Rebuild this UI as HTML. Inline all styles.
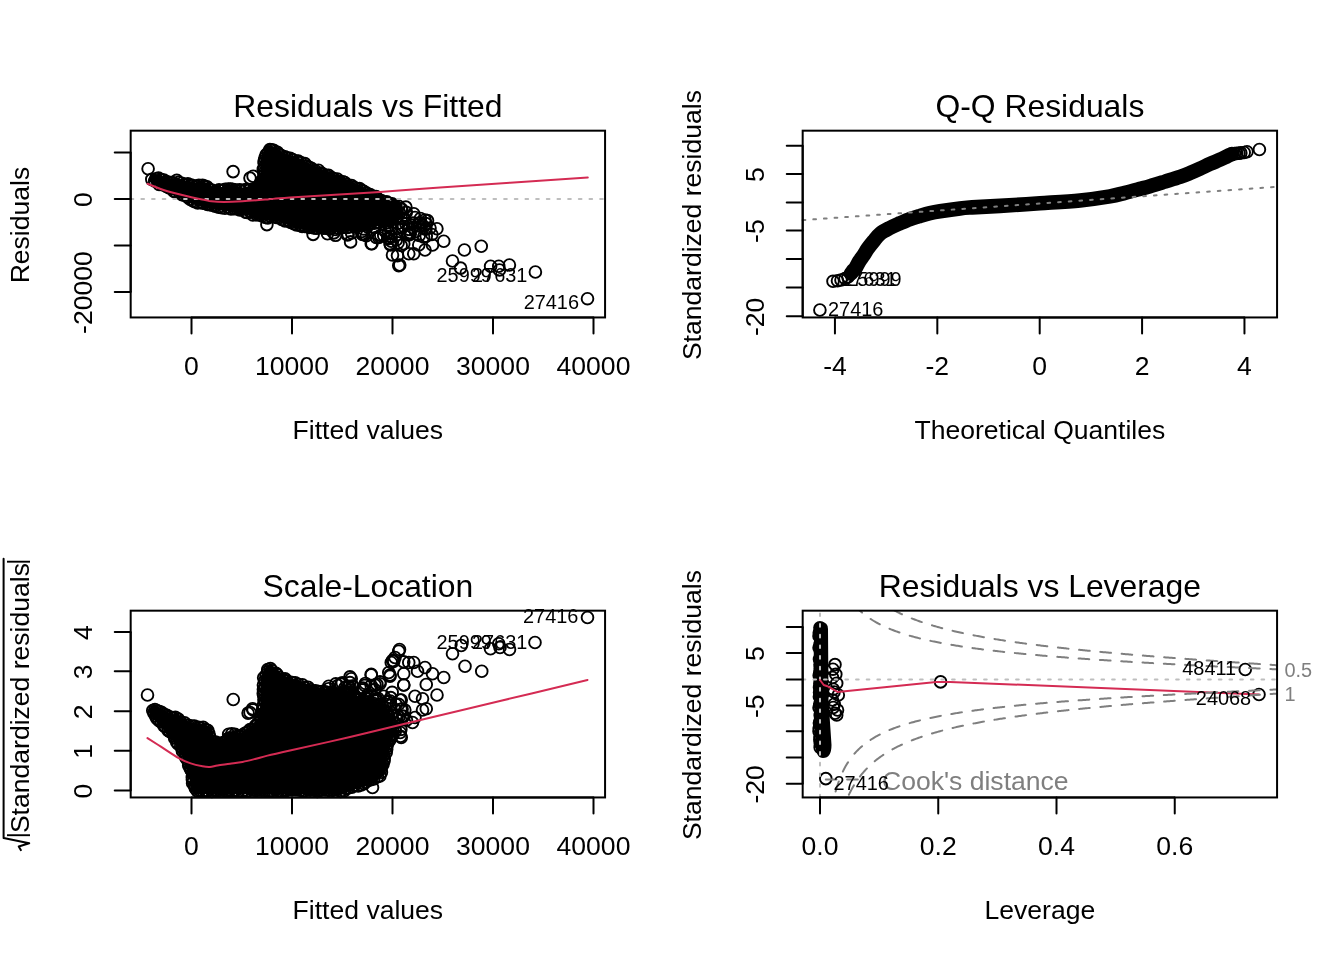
<!DOCTYPE html>
<html><head><meta charset="utf-8"><title>lm diagnostics</title>
<style>html,body{margin:0;padding:0;background:#fff;}svg{display:block;}</style></head>
<body><svg width="1344" height="960" viewBox="0 0 1344 960" font-family="'Liberation Sans', Arial, Helvetica, sans-serif">
<rect width="1344" height="960" fill="#fff"/>
<polygon points="148.14,180.04 148.55,181.17 155.97,185.75 193.24,204.38 205.44,208.04 217.8,209.92 230.29,211.77 230.38,211.79 240.38,213.74 240.47,213.76 247.97,215.56 248.16,215.61 248.34,215.69 248.52,215.78 254.04,219.06 267,220.41 280.39,221.71 280.61,221.74 280.82,221.8 281.02,221.88 294.15,227.8 307.29,231.01 320.4,231.7 333.65,232.39 346.79,231.01 346.81,231.01 360.21,229.72 373.5,227.04 373.52,227.04 386.74,224.47 394.72,221.35 399.08,215.25 399.92,208.49 398.53,206.39 393.9,202.92 385.31,198.01 375.41,193.07 366.71,189.34 366.61,189.29 349.16,180.57 331.72,173.09 316.73,166.85 316.6,166.79 297.96,157.44 289.42,154.42 284.51,153.19 284.3,153.12 284.09,153.03 283.89,152.91 276.49,147.98 271.02,145.23 267.49,146.14 264.23,151.01 260.74,157.99 260.5,172.03 260.49,172.2 260.47,172.37 260.43,172.54 257.93,181.54 257.87,181.72 257.79,181.89 257.7,182.06 257.59,182.21 257.47,182.36 257.33,182.49 257.19,182.61 257.03,182.71 252.03,185.71 251.86,185.8 251.69,185.88 251.51,185.93 251.33,185.97 245.33,186.97 245.32,186.97 241.57,187.57 241.36,187.6 241.15,187.6 240.95,187.58 240.74,187.53 240.55,187.47 240.36,187.39 235.71,185.07 227.91,184.53 223.39,186.79 223.22,186.86 223.05,186.92 222.87,186.97 222.69,186.99 222.5,187 213.75,187 213.55,186.99 213.34,186.96 213.15,186.91 212.95,186.84 212.77,186.74 212.6,186.64 206.73,182.5 200.16,181.45 196.86,182.5 196.66,182.56 196.46,182.59 196.26,182.6 196.06,182.59 195.86,182.56 183.36,180.06 183.17,180.01 182.99,179.95 176.22,177.15 171.96,178.77 171.77,178.83 171.57,178.87 171.37,178.9 171.17,178.9 170.96,178.88 170.77,178.84 170.57,178.78 161.9,175.66 153.25,173.36 150.3,174.61 148.14,180.04" fill="#000"/>
<g fill="none" stroke="#000" stroke-width="1.9"><circle cx="151.8" cy="179.35" r="5.85"/><circle cx="154.61" cy="181.05" r="5.85"/><circle cx="157.68" cy="181.55" r="5.85"/><circle cx="159.12" cy="184.46" r="5.85"/><circle cx="162.3" cy="184.6" r="5.85"/><circle cx="166.45" cy="186.41" r="5.85"/><circle cx="168.82" cy="187.76" r="5.85"/><circle cx="171.11" cy="188.45" r="5.85"/><circle cx="173.78" cy="191.23" r="5.85"/><circle cx="176.24" cy="192.32" r="5.85"/><circle cx="179.22" cy="192.31" r="5.85"/><circle cx="182.08" cy="194.7" r="5.85"/><circle cx="183.85" cy="194.92" r="5.85"/><circle cx="187.66" cy="197.15" r="5.85"/><circle cx="190.05" cy="199.3" r="5.85"/><circle cx="192.72" cy="200.73" r="5.85"/><circle cx="194.8" cy="201.76" r="5.85"/><circle cx="197.77" cy="202.89" r="5.85"/><circle cx="201.51" cy="202.07" r="5.85"/><circle cx="202.9" cy="203.18" r="5.85"/><circle cx="207.44" cy="204.44" r="5.85"/><circle cx="209.73" cy="204.62" r="5.85"/><circle cx="212.45" cy="205.24" r="5.85"/><circle cx="215.11" cy="206.09" r="5.85"/><circle cx="218.54" cy="207.18" r="5.85"/><circle cx="221.7" cy="207.67" r="5.85"/><circle cx="225.02" cy="208.23" r="5.85"/><circle cx="227.62" cy="207.01" r="5.85"/><circle cx="230.96" cy="209.05" r="5.85"/><circle cx="234" cy="208.81" r="5.85"/><circle cx="236.57" cy="208.66" r="5.85"/><circle cx="239.75" cy="209.96" r="5.85"/><circle cx="241.59" cy="209.55" r="5.85"/><circle cx="245.64" cy="212.11" r="5.85"/><circle cx="247.03" cy="212.43" r="5.85"/><circle cx="250.47" cy="212.16" r="5.85"/><circle cx="252.82" cy="214.93" r="5.85"/><circle cx="256.65" cy="214.72" r="5.85"/><circle cx="259.12" cy="215.03" r="5.85"/><circle cx="262.31" cy="215.92" r="5.85"/><circle cx="265.62" cy="217.53" r="5.85"/><circle cx="267.85" cy="217.87" r="5.85"/><circle cx="270.45" cy="216.32" r="5.85"/><circle cx="274.01" cy="216.52" r="5.85"/><circle cx="276.19" cy="217.56" r="5.85"/><circle cx="280.01" cy="217.35" r="5.85"/><circle cx="281.78" cy="219.42" r="5.85"/><circle cx="285.06" cy="220.83" r="5.85"/><circle cx="288.96" cy="220.9" r="5.85"/><circle cx="290.82" cy="222.42" r="5.85"/><circle cx="293.92" cy="223.81" r="5.85"/><circle cx="296.55" cy="224.89" r="5.85"/><circle cx="300.23" cy="225.38" r="5.85"/><circle cx="302.13" cy="226.52" r="5.85"/><circle cx="304.65" cy="226.39" r="5.85"/><circle cx="309.05" cy="227.49" r="5.85"/><circle cx="311.19" cy="226.63" r="5.85"/><circle cx="313.92" cy="227.93" r="5.85"/><circle cx="316.13" cy="228.15" r="5.85"/><circle cx="320.35" cy="227.2" r="5.85"/><circle cx="323.33" cy="228.17" r="5.85"/><circle cx="326.43" cy="228.1" r="5.85"/><circle cx="329.48" cy="229.03" r="5.85"/><circle cx="331.11" cy="227.83" r="5.85"/><circle cx="335.41" cy="229.55" r="5.85"/><circle cx="337.54" cy="228.22" r="5.85"/><circle cx="341.21" cy="227.64" r="5.85"/><circle cx="343.73" cy="227.31" r="5.85"/><circle cx="346.73" cy="227.57" r="5.85"/><circle cx="349.58" cy="226.84" r="5.85"/><circle cx="353.51" cy="225.85" r="5.85"/><circle cx="356.09" cy="226.98" r="5.85"/><circle cx="358.55" cy="225.67" r="5.85"/><circle cx="362.49" cy="225.19" r="5.85"/><circle cx="364.2" cy="224.99" r="5.85"/><circle cx="368.16" cy="223.73" r="5.85"/><circle cx="370.35" cy="223.6" r="5.85"/><circle cx="374.32" cy="223.22" r="5.85"/><circle cx="377.31" cy="222.11" r="5.85"/><circle cx="379.22" cy="222.5" r="5.85"/><circle cx="383.26" cy="221.53" r="5.85"/><circle cx="384.88" cy="220.3" r="5.85"/><circle cx="388.3" cy="219.4" r="5.85"/><circle cx="391.65" cy="219.6" r="5.85"/><circle cx="392.66" cy="216.71" r="5.85"/><circle cx="395.65" cy="214.99" r="5.85"/><circle cx="396.48" cy="211.6" r="5.85"/><circle cx="395.2" cy="208.59" r="5.85"/><circle cx="394.16" cy="206.72" r="5.85"/><circle cx="390.8" cy="205.31" r="5.85"/><circle cx="388.34" cy="203.8" r="5.85"/><circle cx="386.74" cy="201.81" r="5.85"/><circle cx="382.29" cy="201.91" r="5.85"/><circle cx="381.36" cy="200.66" r="5.85"/><circle cx="377.78" cy="199.24" r="5.85"/><circle cx="376.09" cy="196.45" r="5.85"/><circle cx="373" cy="196.41" r="5.85"/><circle cx="370.08" cy="194.6" r="5.85"/><circle cx="366.57" cy="193.06" r="5.85"/><circle cx="363.72" cy="191.28" r="5.85"/><circle cx="361.76" cy="190.37" r="5.85"/><circle cx="359.52" cy="188.55" r="5.85"/><circle cx="357.02" cy="188.5" r="5.85"/><circle cx="354.38" cy="187.57" r="5.85"/><circle cx="351.65" cy="185.59" r="5.85"/><circle cx="347.19" cy="184.58" r="5.85"/><circle cx="344.76" cy="182.48" r="5.85"/><circle cx="342.99" cy="181.75" r="5.85"/><circle cx="339.73" cy="181.39" r="5.85"/><circle cx="337.37" cy="179.02" r="5.85"/><circle cx="333.89" cy="178.88" r="5.85"/><circle cx="331.59" cy="177.54" r="5.85"/><circle cx="328.57" cy="175.2" r="5.85"/><circle cx="326.17" cy="175.28" r="5.85"/><circle cx="322.67" cy="174.08" r="5.85"/><circle cx="321.4" cy="172.95" r="5.85"/><circle cx="318.44" cy="170.2" r="5.85"/><circle cx="315.28" cy="170.75" r="5.85"/><circle cx="311.44" cy="168.22" r="5.85"/><circle cx="309.2" cy="167.39" r="5.85"/><circle cx="306.83" cy="165.94" r="5.85"/><circle cx="304.85" cy="163.65" r="5.85"/><circle cx="300.73" cy="162.56" r="5.85"/><circle cx="298.19" cy="161.09" r="5.85"/><circle cx="297.19" cy="161.36" r="5.85"/><circle cx="292.58" cy="159.65" r="5.85"/><circle cx="290.21" cy="158.28" r="5.85"/><circle cx="287.44" cy="158" r="5.85"/><circle cx="285" cy="156.7" r="5.85"/><circle cx="281.4" cy="155.64" r="5.85"/><circle cx="278.76" cy="154.43" r="5.85"/><circle cx="277.45" cy="152.42" r="5.85"/><circle cx="273.67" cy="150.37" r="5.85"/><circle cx="271.58" cy="149.87" r="5.85"/><circle cx="269.89" cy="149.64" r="5.85"/><circle cx="268.26" cy="152.61" r="5.85"/><circle cx="266.12" cy="154.76" r="5.85"/><circle cx="264.9" cy="158.11" r="5.85"/><circle cx="264.14" cy="160.95" r="5.85"/><circle cx="264.17" cy="163.05" r="5.85"/><circle cx="264.27" cy="166.95" r="5.85"/><circle cx="263.29" cy="169.41" r="5.85"/><circle cx="263.92" cy="173.32" r="5.85"/><circle cx="264.22" cy="175.22" r="5.85"/><circle cx="263.34" cy="178.94" r="5.85"/><circle cx="261.27" cy="181.18" r="5.85"/><circle cx="259.94" cy="184.67" r="5.85"/><circle cx="258.82" cy="186.81" r="5.85"/><circle cx="256.51" cy="187.91" r="5.85"/><circle cx="253.8" cy="189.22" r="5.85"/><circle cx="249.63" cy="189.95" r="5.85"/><circle cx="246.47" cy="189.55" r="5.85"/><circle cx="245.05" cy="189.84" r="5.85"/><circle cx="240.72" cy="190.39" r="5.85"/><circle cx="239.4" cy="189.91" r="5.85"/><circle cx="235" cy="189.9" r="5.85"/><circle cx="232.34" cy="189.19" r="5.85"/><circle cx="230.46" cy="188.96" r="5.85"/><circle cx="228.18" cy="189.03" r="5.85"/><circle cx="225.18" cy="189.27" r="5.85"/><circle cx="222.17" cy="190.62" r="5.85"/><circle cx="219.06" cy="189.81" r="5.85"/><circle cx="216.13" cy="191.47" r="5.85"/><circle cx="211.76" cy="190.14" r="5.85"/><circle cx="210.09" cy="189.84" r="5.85"/><circle cx="207" cy="186.82" r="5.85"/><circle cx="204.5" cy="186.1" r="5.85"/><circle cx="202.55" cy="185.19" r="5.85"/><circle cx="198.86" cy="185.35" r="5.85"/><circle cx="195.91" cy="186.03" r="5.85"/><circle cx="192.42" cy="185.71" r="5.85"/><circle cx="191.26" cy="184.95" r="5.85"/><circle cx="187.87" cy="183.86" r="5.85"/><circle cx="184.81" cy="184.46" r="5.85"/><circle cx="181.87" cy="183.27" r="5.85"/><circle cx="178.72" cy="182.38" r="5.85"/><circle cx="176.77" cy="180.39" r="5.85"/><circle cx="172.36" cy="182.65" r="5.85"/><circle cx="171.05" cy="182.43" r="5.85"/><circle cx="167.26" cy="181.89" r="5.85"/><circle cx="163.92" cy="179.97" r="5.85"/><circle cx="161.12" cy="179.59" r="5.85"/><circle cx="158.48" cy="178.04" r="5.85"/><circle cx="156.33" cy="178.71" r="5.85"/></g>
<g fill="none" stroke="#000" stroke-width="1.9"><circle cx="148.1" cy="168.75" r="5.85"/><circle cx="233.1" cy="171.6" r="5.85"/><circle cx="266.9" cy="224.6" r="5.85"/><circle cx="250" cy="178.1" r="5.85"/><circle cx="253.1" cy="176.25" r="5.85"/><circle cx="436.9" cy="228.75" r="5.85"/><circle cx="443.75" cy="241.25" r="5.85"/><circle cx="464.4" cy="250" r="5.85"/><circle cx="481.25" cy="246.25" r="5.85"/><circle cx="452.5" cy="261" r="5.85"/><circle cx="460.6" cy="268.1" r="5.85"/><circle cx="490.6" cy="266.25" r="5.85"/><circle cx="498.75" cy="266.25" r="5.85"/><circle cx="499.4" cy="270" r="5.85"/><circle cx="509.4" cy="265" r="5.85"/><circle cx="399.75" cy="265" r="5.85"/><circle cx="371.9" cy="243.75" r="5.85"/><circle cx="362.5" cy="234.4" r="5.85"/><circle cx="378.75" cy="237.5" r="5.85"/><circle cx="391.25" cy="241.25" r="5.85"/><circle cx="390.6" cy="245" r="5.85"/><circle cx="392.5" cy="255" r="5.85"/><circle cx="397.5" cy="255.6" r="5.85"/><circle cx="403.75" cy="243.75" r="5.85"/><circle cx="408.75" cy="253.75" r="5.85"/><circle cx="413.75" cy="253.75" r="5.85"/><circle cx="418.75" cy="245" r="5.85"/><circle cx="425" cy="250" r="5.85"/><circle cx="426.25" cy="236.25" r="5.85"/><circle cx="432.5" cy="245" r="5.85"/><circle cx="413.75" cy="213.75" r="5.85"/><circle cx="425" cy="220" r="5.85"/><circle cx="427.5" cy="220.6" r="5.85"/><circle cx="415" cy="217.5" r="5.85"/><circle cx="412.5" cy="227.5" r="5.85"/><circle cx="410" cy="232.5" r="5.85"/><circle cx="401.25" cy="227.5" r="5.85"/><circle cx="398.75" cy="206.25" r="5.85"/><circle cx="401.25" cy="208.75" r="5.85"/><circle cx="385" cy="231.25" r="5.85"/><circle cx="375" cy="227.5" r="5.85"/><circle cx="420" cy="226.25" r="5.85"/><circle cx="313.1" cy="234.4" r="5.85"/><circle cx="327.5" cy="233.75" r="5.85"/><circle cx="347.5" cy="235" r="5.85"/><circle cx="350.6" cy="241.9" r="5.85"/><circle cx="361.9" cy="233.75" r="5.85"/><circle cx="371.25" cy="243.75" r="5.85"/><circle cx="376.25" cy="237.5" r="5.85"/><circle cx="390" cy="243.75" r="5.85"/><circle cx="396.25" cy="240" r="5.85"/><circle cx="398.75" cy="265.6" r="5.85"/><circle cx="535.4" cy="272" r="5.85"/><circle cx="587.5" cy="298.7" r="5.85"/></g>
<g fill="none" stroke="#000" stroke-width="1.9"><circle cx="388.58" cy="232.35" r="5.85"/><circle cx="413.02" cy="223.08" r="5.85"/><circle cx="391.23" cy="236.88" r="5.85"/><circle cx="422.01" cy="224.55" r="5.85"/><circle cx="406.26" cy="212.39" r="5.85"/><circle cx="392.1" cy="203.86" r="5.85"/><circle cx="431.87" cy="234.5" r="5.85"/><circle cx="425.5" cy="229.1" r="5.85"/><circle cx="405.87" cy="207.1" r="5.85"/><circle cx="388.05" cy="237.97" r="5.85"/><circle cx="403.56" cy="226.29" r="5.85"/><circle cx="397.83" cy="223.33" r="5.85"/><circle cx="389.72" cy="203.63" r="5.85"/><circle cx="419.25" cy="235.56" r="5.85"/><circle cx="410.2" cy="234.11" r="5.85"/><circle cx="386.37" cy="222.96" r="5.85"/><circle cx="401.3" cy="218.07" r="5.85"/><circle cx="403.47" cy="218.97" r="5.85"/><circle cx="405.79" cy="223.63" r="5.85"/><circle cx="408.62" cy="234.92" r="5.85"/><circle cx="391.55" cy="228.79" r="5.85"/><circle cx="408.94" cy="229.4" r="5.85"/><circle cx="389.4" cy="209.48" r="5.85"/><circle cx="398.11" cy="242.79" r="5.85"/><circle cx="398.02" cy="228.28" r="5.85"/><circle cx="395.94" cy="206.54" r="5.85"/><circle cx="420.4" cy="218.49" r="5.85"/><circle cx="415.53" cy="231.74" r="5.85"/><circle cx="401.16" cy="245.52" r="5.85"/><circle cx="429.99" cy="227.98" r="5.85"/><circle cx="425.92" cy="223.6" r="5.85"/><circle cx="399.53" cy="212.88" r="5.85"/><circle cx="420.24" cy="223.26" r="5.85"/><circle cx="393.41" cy="214.75" r="5.85"/><circle cx="401.82" cy="209.51" r="5.85"/><circle cx="418.78" cy="223.07" r="5.85"/><circle cx="407.33" cy="234.06" r="5.85"/><circle cx="423.59" cy="236.99" r="5.85"/><circle cx="425.84" cy="228.46" r="5.85"/><circle cx="402.16" cy="227.57" r="5.85"/></g>
<g fill="none" stroke="#000" stroke-width="1.9"><circle cx="317.5" cy="227.93" r="5.85"/><circle cx="361.89" cy="231.53" r="5.85"/><circle cx="367.27" cy="226.78" r="5.85"/><circle cx="383.73" cy="235.43" r="5.85"/><circle cx="329.51" cy="229.04" r="5.85"/><circle cx="380.73" cy="235.33" r="5.85"/><circle cx="389.11" cy="238.38" r="5.85"/><circle cx="366.35" cy="235.8" r="5.85"/><circle cx="390.69" cy="236.41" r="5.85"/><circle cx="363.41" cy="228.96" r="5.85"/><circle cx="348.1" cy="234.28" r="5.85"/><circle cx="335.51" cy="235.32" r="5.85"/><circle cx="351.6" cy="232.94" r="5.85"/><circle cx="363.96" cy="234.45" r="5.85"/><circle cx="333.79" cy="232.91" r="5.85"/></g>
<line x1="130.68" y1="199" x2="605.07" y2="199" stroke="#BEBEBE" stroke-width="2" stroke-dasharray="2.67 8" stroke-linecap="round"/>
<path d="M147.5,183.75 C150.83,185 160,188.96 167.5,191.25 C175,193.54 186.25,196.04 192.5,197.5 C198.75,198.96 201.88,199.38 205,200 C208.12,200.62 208.12,200.93 211.25,201.25 C214.38,201.57 218.54,201.9 223.75,201.9 C228.96,201.9 235.21,201.67 242.5,201.25 C249.79,200.83 259.58,200.03 267.5,199.4 C275.42,198.78 271.25,198.73 290,197.5 C308.75,196.27 355,193.67 380,192 C405,190.33 405.37,189.92 440,187.5 C474.63,185.08 563.17,179.17 587.8,177.5" fill="none" stroke="#D42B53" stroke-width="2" stroke-linejoin="round" stroke-linecap="round" />
<text x="436.5" y="282.2" font-size="19.92" text-anchor="start" fill="#000">25999</text>
<text x="527.35" y="282.2" font-size="19.92" text-anchor="end" fill="#000">27631</text>
<text x="579" y="309.4" font-size="19.92" text-anchor="end" fill="#000">27416</text>
<rect x="130.68" y="130.68" width="474.39" height="186.77" fill="none" stroke="#000" stroke-width="2"/>
<text x="367.88" y="117.14" font-size="31.87" text-anchor="middle" fill="#000">Residuals vs Fitted</text>
<line x1="191.5" y1="317.45" x2="593.5" y2="317.45" stroke="#000" stroke-width="2" />
<line x1="130.68" y1="152.5" x2="130.68" y2="292" stroke="#000" stroke-width="2" />
<line x1="191.5" y1="317.45" x2="191.5" y2="333.39" stroke="#000" stroke-width="2" stroke-linecap="round"/>
<text x="191.5" y="374.82" font-size="26.56" text-anchor="middle" fill="#000">0</text>
<line x1="292" y1="317.45" x2="292" y2="333.39" stroke="#000" stroke-width="2" stroke-linecap="round"/>
<text x="292" y="374.82" font-size="26.56" text-anchor="middle" fill="#000">10000</text>
<line x1="392.5" y1="317.45" x2="392.5" y2="333.39" stroke="#000" stroke-width="2" stroke-linecap="round"/>
<text x="392.5" y="374.82" font-size="26.56" text-anchor="middle" fill="#000">20000</text>
<line x1="493" y1="317.45" x2="493" y2="333.39" stroke="#000" stroke-width="2" stroke-linecap="round"/>
<text x="493" y="374.82" font-size="26.56" text-anchor="middle" fill="#000">30000</text>
<line x1="593.5" y1="317.45" x2="593.5" y2="333.39" stroke="#000" stroke-width="2" stroke-linecap="round"/>
<text x="593.5" y="374.82" font-size="26.56" text-anchor="middle" fill="#000">40000</text>
<line x1="130.68" y1="152.5" x2="114.74" y2="152.5" stroke="#000" stroke-width="2" stroke-linecap="round"/>
<line x1="130.68" y1="199" x2="114.74" y2="199" stroke="#000" stroke-width="2" stroke-linecap="round"/>
<text x="92.43" y="199.6" font-size="26.56" text-anchor="middle" fill="#000" transform="rotate(-90 92.43 199.6)">0</text>
<line x1="130.68" y1="245.5" x2="114.74" y2="245.5" stroke="#000" stroke-width="2" stroke-linecap="round"/>
<line x1="130.68" y1="292" x2="114.74" y2="292" stroke="#000" stroke-width="2" stroke-linecap="round"/>
<text x="92.43" y="292.6" font-size="26.56" text-anchor="middle" fill="#000" transform="rotate(-90 92.43 292.6)">-20000</text>
<text x="367.88" y="438.56" font-size="26.56" text-anchor="middle" fill="#000">Fitted values</text>
<text x="28.69" y="225.06" font-size="26.56" text-anchor="middle" fill="#000" transform="rotate(-90 28.69 225.06)">Residuals</text>
<path d="M851,273.5 C851.46,272.92 852.93,271 853.75,270 C854.57,269 854.98,268.96 855.9,267.5 C856.82,266.04 857.99,263.33 859.3,261.25 C860.61,259.17 862.37,257.08 863.75,255 C865.13,252.92 865.98,251.04 867.6,248.75 C869.23,246.46 871.43,243.74 873.5,241.25 C875.57,238.76 877.25,236.03 880,233.8 C882.75,231.58 886.67,229.65 890,227.9 C893.33,226.15 896.67,224.77 900,223.3 C903.33,221.83 906.67,220.33 910,219.1 C913.33,217.87 916.67,216.9 920,215.9 C923.33,214.9 926.67,213.88 930,213.1 C933.33,212.32 935,211.98 940,211.2 C945,210.42 954.67,209.03 960,208.4 C965.33,207.77 965.33,207.82 972,207.4 C978.67,206.98 988.67,206.58 1000,205.9 C1011.33,205.22 1026.67,204.22 1040,203.3 C1053.33,202.38 1068.33,201.56 1080,200.4 C1091.67,199.24 1102.5,197.62 1110,196.35 C1117.5,195.08 1120,194.04 1125,192.8 C1130,191.56 1135.83,190 1140,188.9 C1144.17,187.8 1145.83,187.42 1150,186.2 C1154.17,184.98 1160,183.15 1165,181.6 C1170,180.05 1175.83,178.32 1180,176.9 C1184.17,175.48 1186.67,174.43 1190,173.05 C1193.33,171.68 1196.67,170.17 1200,168.65 C1203.33,167.13 1206.67,165.44 1210,163.95 C1213.33,162.46 1217.17,160.97 1220,159.7 C1222.83,158.42 1225,157.25 1227,156.3 C1229,155.35 1231.17,154.38 1232,154" fill="none" stroke="#000" stroke-width="14.6" stroke-linejoin="round" stroke-linecap="round" />
<g fill="none" stroke="#000" stroke-width="1.9"><circle cx="848" cy="277" r="5.85"/><circle cx="845" cy="278.5" r="5.85"/><circle cx="841" cy="280" r="5.85"/><circle cx="837.5" cy="280.8" r="5.85"/><circle cx="833" cy="281.3" r="5.85"/><circle cx="1234.5" cy="153.6" r="5.85"/><circle cx="1236.7" cy="153.4" r="5.85"/><circle cx="1239" cy="153.2" r="5.85"/><circle cx="1240.8" cy="152.9" r="5.85"/><circle cx="1244.2" cy="152.5" r="5.85"/><circle cx="1247" cy="151.7" r="5.85"/><circle cx="1259.4" cy="149.5" r="5.85"/><circle cx="819.9" cy="310" r="5.85"/></g>
<line x1="802.68" y1="220.07" x2="1277.07" y2="186.82" stroke="#7F7F7F" stroke-width="2" stroke-dasharray="2.67 8" stroke-linecap="round"/>
<text x="828" y="315.6" font-size="19.92" text-anchor="start" fill="#000">27416</text>
<text x="841.2" y="286.2" font-size="19.92" text-anchor="start" fill="#000">27631</text>
<text x="846.3" y="286.2" font-size="19.92" text-anchor="start" fill="#000">25999</text>
<rect x="802.68" y="130.68" width="474.39" height="186.77" fill="none" stroke="#000" stroke-width="2"/>
<text x="1039.88" y="117.14" font-size="31.87" text-anchor="middle" fill="#000">Q-Q Residuals</text>
<line x1="834.94" y1="317.45" x2="1244.46" y2="317.45" stroke="#000" stroke-width="2" />
<line x1="802.68" y1="145.75" x2="802.68" y2="316.25" stroke="#000" stroke-width="2" />
<line x1="834.94" y1="317.45" x2="834.94" y2="333.39" stroke="#000" stroke-width="2" stroke-linecap="round"/>
<text x="834.94" y="374.82" font-size="26.56" text-anchor="middle" fill="#000">-4</text>
<line x1="937.32" y1="317.45" x2="937.32" y2="333.39" stroke="#000" stroke-width="2" stroke-linecap="round"/>
<text x="937.32" y="374.82" font-size="26.56" text-anchor="middle" fill="#000">-2</text>
<line x1="1039.7" y1="317.45" x2="1039.7" y2="333.39" stroke="#000" stroke-width="2" stroke-linecap="round"/>
<text x="1039.7" y="374.82" font-size="26.56" text-anchor="middle" fill="#000">0</text>
<line x1="1142.08" y1="317.45" x2="1142.08" y2="333.39" stroke="#000" stroke-width="2" stroke-linecap="round"/>
<text x="1142.08" y="374.82" font-size="26.56" text-anchor="middle" fill="#000">2</text>
<line x1="1244.46" y1="317.45" x2="1244.46" y2="333.39" stroke="#000" stroke-width="2" stroke-linecap="round"/>
<text x="1244.46" y="374.82" font-size="26.56" text-anchor="middle" fill="#000">4</text>
<line x1="802.68" y1="145.75" x2="786.74" y2="145.75" stroke="#000" stroke-width="2" stroke-linecap="round"/>
<line x1="802.68" y1="174" x2="786.74" y2="174" stroke="#000" stroke-width="2" stroke-linecap="round"/>
<text x="764.43" y="174.6" font-size="26.56" text-anchor="middle" fill="#000" transform="rotate(-90 764.43 174.6)">5</text>
<line x1="802.68" y1="202.5" x2="786.74" y2="202.5" stroke="#000" stroke-width="2" stroke-linecap="round"/>
<line x1="802.68" y1="230.5" x2="786.74" y2="230.5" stroke="#000" stroke-width="2" stroke-linecap="round"/>
<text x="764.43" y="231.1" font-size="26.56" text-anchor="middle" fill="#000" transform="rotate(-90 764.43 231.1)">-5</text>
<line x1="802.68" y1="259" x2="786.74" y2="259" stroke="#000" stroke-width="2" stroke-linecap="round"/>
<line x1="802.68" y1="287.5" x2="786.74" y2="287.5" stroke="#000" stroke-width="2" stroke-linecap="round"/>
<line x1="802.68" y1="316.25" x2="786.74" y2="316.25" stroke="#000" stroke-width="2" stroke-linecap="round"/>
<text x="764.43" y="316.85" font-size="26.56" text-anchor="middle" fill="#000" transform="rotate(-90 764.43 316.85)">-20</text>
<text x="1039.88" y="438.56" font-size="26.56" text-anchor="middle" fill="#000">Theoretical Quantiles</text>
<text x="700.69" y="225.06" font-size="26.56" text-anchor="middle" fill="#000" transform="rotate(-90 700.69 225.06)">Standardized residuals</text>
<polygon points="149.5,710.75 149.5,714.36 151.54,717.22 161.95,728.12 162.02,728.2 170.52,738.2 170.65,738.36 177.9,748.86 178.04,749.11 183.04,759.11 183.12,759.3 186.87,769.3 186.94,769.51 189.44,779.51 189.48,779.75 190.67,789.25 194.03,794 344.45,794 348.97,791.29 349.13,791.2 349.29,791.13 349.46,791.07 361.89,787.59 374.04,783.22 383.24,776.32 385.55,767.54 388.04,755.83 388.08,755.7 395.44,729.94 392.13,714.82 385.63,705.52 377.21,700.85 364.51,696.94 349.61,693.96 349.43,693.92 334.59,689.46 314.75,686.98 314.57,686.95 314.4,686.91 314.23,686.85 299.3,680.62 284.37,675.65 284.19,675.58 284.03,675.5 283.87,675.4 283.72,675.29 276.23,669.05 270.73,664.64 266.4,665.51 260.74,677.94 260.5,698.77 260.5,698.86 260,708.11 259.98,708.27 259.95,708.43 257.95,717.43 257.9,717.62 257.83,717.8 257.75,717.97 257.65,718.13 257.54,718.28 252.54,724.28 252.38,724.45 252.2,724.6 241.2,732.85 241.03,732.96 240.86,733.06 240.67,733.13 240.48,733.19 240.28,733.23 240.08,733.25 239.88,733.25 239.68,733.22 239.48,733.18 239.29,733.12 239.11,733.04 234.65,730.81 226.5,731.83 224.4,738.13 224.32,738.32 224.23,738.5 224.12,738.67 224,738.83 223.85,738.97 223.7,739.1 223.53,739.21 223.35,739.31 223.17,739.39 222.97,739.44 222.77,739.48 222.57,739.5 222.37,739.5 222.17,739.47 214.67,738.22 214.48,738.18 214.3,738.12 214.12,738.04 213.95,737.95 213.79,737.84 213.64,737.72 213.5,737.58 213.38,737.42 213.28,737.26 213.19,737.09 213.11,736.91 213.06,736.72 213.02,736.53 211.89,728.6 207.81,725.54 200.93,723.25 196.25,723.25 196.05,723.24 195.86,723.21 189.61,721.96 189.39,721.9 189.17,721.82 188.97,721.71 182.72,717.96 182.49,717.81 177.06,713.41 174.31,714.22 174.12,714.27 173.92,714.29 173.72,714.3 173.52,714.29 173.32,714.25 173.13,714.2 172.94,714.13 165.44,710.83 165.36,710.79 159.11,707.69 159,707.63 153.65,704.55 150.71,705.91 149.5,710.75" fill="#000"/>
<g fill="none" stroke="#000" stroke-width="1.9"><circle cx="152.75" cy="710.49" r="5.85"/><circle cx="153.97" cy="713.15" r="5.85"/><circle cx="155.69" cy="716.01" r="5.85"/><circle cx="156.81" cy="718.46" r="5.85"/><circle cx="158.84" cy="720.49" r="5.85"/><circle cx="160.97" cy="721.97" r="5.85"/><circle cx="163.76" cy="725.61" r="5.85"/><circle cx="165.14" cy="726.65" r="5.85"/><circle cx="168.09" cy="730.38" r="5.85"/><circle cx="169.94" cy="731.57" r="5.85"/><circle cx="172.68" cy="733.15" r="5.85"/><circle cx="174.36" cy="735.95" r="5.85"/><circle cx="174.63" cy="738.07" r="5.85"/><circle cx="176.67" cy="741.94" r="5.85"/><circle cx="178.12" cy="743.94" r="5.85"/><circle cx="180.74" cy="745.99" r="5.85"/><circle cx="182.03" cy="747.97" r="5.85"/><circle cx="182.4" cy="750.94" r="5.85"/><circle cx="184.98" cy="754.07" r="5.85"/><circle cx="185.59" cy="757.07" r="5.85"/><circle cx="187.01" cy="759.27" r="5.85"/><circle cx="188.75" cy="762.87" r="5.85"/><circle cx="188.7" cy="765.43" r="5.85"/><circle cx="190.31" cy="768.85" r="5.85"/><circle cx="191.48" cy="770.57" r="5.85"/><circle cx="192.71" cy="773.14" r="5.85"/><circle cx="192.31" cy="777.33" r="5.85"/><circle cx="192.42" cy="779.72" r="5.85"/><circle cx="192.56" cy="783.06" r="5.85"/><circle cx="194.39" cy="785.85" r="5.85"/><circle cx="195.33" cy="788.17" r="5.85"/><circle cx="197.01" cy="790.59" r="5.85"/><circle cx="199.78" cy="790.31" r="5.85"/><circle cx="203.3" cy="791.29" r="5.85"/><circle cx="205.57" cy="790.73" r="5.85"/><circle cx="207.74" cy="790.8" r="5.85"/><circle cx="211.91" cy="791.39" r="5.85"/><circle cx="215.26" cy="789.97" r="5.85"/><circle cx="217.39" cy="790.74" r="5.85"/><circle cx="219.66" cy="790.32" r="5.85"/><circle cx="222.95" cy="789.63" r="5.85"/><circle cx="225.74" cy="790.94" r="5.85"/><circle cx="228.88" cy="789.9" r="5.85"/><circle cx="232.4" cy="791.14" r="5.85"/><circle cx="234.78" cy="790.3" r="5.85"/><circle cx="238.72" cy="791.17" r="5.85"/><circle cx="242.26" cy="791.13" r="5.85"/><circle cx="244.17" cy="790.23" r="5.85"/><circle cx="247.34" cy="791.17" r="5.85"/><circle cx="251.53" cy="789.7" r="5.85"/><circle cx="252.97" cy="789.86" r="5.85"/><circle cx="256.08" cy="790.37" r="5.85"/><circle cx="259.8" cy="789.93" r="5.85"/><circle cx="261.63" cy="790.24" r="5.85"/><circle cx="265.36" cy="790.53" r="5.85"/><circle cx="269.52" cy="790.78" r="5.85"/><circle cx="271.65" cy="790.64" r="5.85"/><circle cx="274.97" cy="789.51" r="5.85"/><circle cx="278.42" cy="790.96" r="5.85"/><circle cx="281.37" cy="791" r="5.85"/><circle cx="283.4" cy="790.2" r="5.85"/><circle cx="285.82" cy="790.67" r="5.85"/><circle cx="288.74" cy="789.53" r="5.85"/><circle cx="292.04" cy="789.72" r="5.85"/><circle cx="295.3" cy="789.51" r="5.85"/><circle cx="297.62" cy="789.7" r="5.85"/><circle cx="300.82" cy="790.13" r="5.85"/><circle cx="303.67" cy="791.15" r="5.85"/><circle cx="307.85" cy="789.7" r="5.85"/><circle cx="310.12" cy="790.09" r="5.85"/><circle cx="313.35" cy="789.65" r="5.85"/><circle cx="317.32" cy="791.39" r="5.85"/><circle cx="319.55" cy="790.37" r="5.85"/><circle cx="321.79" cy="789.6" r="5.85"/><circle cx="325.3" cy="789.93" r="5.85"/><circle cx="329.28" cy="789.72" r="5.85"/><circle cx="330.66" cy="791.3" r="5.85"/><circle cx="334.67" cy="789.69" r="5.85"/><circle cx="337.7" cy="789.45" r="5.85"/><circle cx="340.67" cy="791.36" r="5.85"/><circle cx="344.32" cy="790.71" r="5.85"/><circle cx="345.69" cy="788.5" r="5.85"/><circle cx="348.2" cy="788.05" r="5.85"/><circle cx="351.82" cy="787.25" r="5.85"/><circle cx="354.3" cy="785.33" r="5.85"/><circle cx="358.16" cy="786.04" r="5.85"/><circle cx="361.13" cy="784.88" r="5.85"/><circle cx="363.89" cy="783.76" r="5.85"/><circle cx="365.53" cy="782.3" r="5.85"/><circle cx="368.61" cy="780.3" r="5.85"/><circle cx="370.78" cy="779.79" r="5.85"/><circle cx="373.73" cy="778.98" r="5.85"/><circle cx="377.52" cy="776.69" r="5.85"/><circle cx="379.88" cy="775.97" r="5.85"/><circle cx="381.41" cy="772.31" r="5.85"/><circle cx="380.71" cy="769.13" r="5.85"/><circle cx="381.42" cy="766.19" r="5.85"/><circle cx="382.91" cy="764.65" r="5.85"/><circle cx="383.96" cy="760.87" r="5.85"/><circle cx="384.21" cy="758.58" r="5.85"/><circle cx="383.7" cy="755.36" r="5.85"/><circle cx="386.17" cy="752.72" r="5.85"/><circle cx="386.67" cy="749.23" r="5.85"/><circle cx="386.35" cy="746.96" r="5.85"/><circle cx="387.48" cy="744.1" r="5.85"/><circle cx="389.59" cy="740.41" r="5.85"/><circle cx="389.27" cy="738.63" r="5.85"/><circle cx="390.74" cy="734.19" r="5.85"/><circle cx="390.37" cy="731.27" r="5.85"/><circle cx="392.37" cy="729.68" r="5.85"/><circle cx="390.21" cy="726.79" r="5.85"/><circle cx="391.24" cy="723.52" r="5.85"/><circle cx="389.34" cy="720.37" r="5.85"/><circle cx="388.26" cy="716.37" r="5.85"/><circle cx="388.61" cy="715.02" r="5.85"/><circle cx="386" cy="713.13" r="5.85"/><circle cx="384.09" cy="710.55" r="5.85"/><circle cx="382.82" cy="707.14" r="5.85"/><circle cx="379.05" cy="705.85" r="5.85"/><circle cx="376.4" cy="704.98" r="5.85"/><circle cx="373.68" cy="703.52" r="5.85"/><circle cx="370.55" cy="703.61" r="5.85"/><circle cx="368.13" cy="701.83" r="5.85"/><circle cx="365.72" cy="701.84" r="5.85"/><circle cx="362.51" cy="701.08" r="5.85"/><circle cx="359.73" cy="699.72" r="5.85"/><circle cx="356.83" cy="698.1" r="5.85"/><circle cx="353.72" cy="697.85" r="5.85"/><circle cx="349.91" cy="698.49" r="5.85"/><circle cx="347.32" cy="697.19" r="5.85"/><circle cx="345.55" cy="696.49" r="5.85"/><circle cx="341.88" cy="695.55" r="5.85"/><circle cx="339.46" cy="695.22" r="5.85"/><circle cx="335.69" cy="693.91" r="5.85"/><circle cx="333.09" cy="692.52" r="5.85"/><circle cx="331.16" cy="692.61" r="5.85"/><circle cx="327.77" cy="692.74" r="5.85"/><circle cx="325.49" cy="691.74" r="5.85"/><circle cx="321.91" cy="691.49" r="5.85"/><circle cx="318.74" cy="691.49" r="5.85"/><circle cx="315.64" cy="690.8" r="5.85"/><circle cx="312.76" cy="691.03" r="5.85"/><circle cx="310.43" cy="689.75" r="5.85"/><circle cx="308.15" cy="687.36" r="5.85"/><circle cx="304.62" cy="687.58" r="5.85"/><circle cx="302.41" cy="684.81" r="5.85"/><circle cx="298.2" cy="684.27" r="5.85"/><circle cx="295.28" cy="682.85" r="5.85"/><circle cx="292.44" cy="682.76" r="5.85"/><circle cx="291.01" cy="682.26" r="5.85"/><circle cx="286.91" cy="680.95" r="5.85"/><circle cx="285.07" cy="678.86" r="5.85"/><circle cx="282.74" cy="679.39" r="5.85"/><circle cx="279.08" cy="677.48" r="5.85"/><circle cx="277.14" cy="674.63" r="5.85"/><circle cx="276.01" cy="673.4" r="5.85"/><circle cx="272.03" cy="670.7" r="5.85"/><circle cx="270.4" cy="668.64" r="5.85"/><circle cx="267.74" cy="669.56" r="5.85"/><circle cx="267.55" cy="671.69" r="5.85"/><circle cx="265.97" cy="675.26" r="5.85"/><circle cx="263.66" cy="677.78" r="5.85"/><circle cx="264.56" cy="681.08" r="5.85"/><circle cx="263.4" cy="685.02" r="5.85"/><circle cx="264.81" cy="687.99" r="5.85"/><circle cx="263.41" cy="689.58" r="5.85"/><circle cx="263.25" cy="693.61" r="5.85"/><circle cx="263.67" cy="695.31" r="5.85"/><circle cx="263.94" cy="699.87" r="5.85"/><circle cx="264.57" cy="701.56" r="5.85"/><circle cx="263.07" cy="705.88" r="5.85"/><circle cx="263.75" cy="708.44" r="5.85"/><circle cx="262.25" cy="710.1" r="5.85"/><circle cx="262.8" cy="713.76" r="5.85"/><circle cx="260.92" cy="717.72" r="5.85"/><circle cx="261.17" cy="720.3" r="5.85"/><circle cx="258.24" cy="722.78" r="5.85"/><circle cx="256.28" cy="725.1" r="5.85"/><circle cx="255.13" cy="726.35" r="5.85"/><circle cx="253.01" cy="729.42" r="5.85"/><circle cx="250.04" cy="729.63" r="5.85"/><circle cx="248.16" cy="731.65" r="5.85"/><circle cx="244.93" cy="733.29" r="5.85"/><circle cx="242.41" cy="735.17" r="5.85"/><circle cx="240.16" cy="736.43" r="5.85"/><circle cx="238.13" cy="735.89" r="5.85"/><circle cx="234.93" cy="734.33" r="5.85"/><circle cx="231.75" cy="733.8" r="5.85"/><circle cx="228.66" cy="734.26" r="5.85"/><circle cx="228.68" cy="738.18" r="5.85"/><circle cx="226.39" cy="740.76" r="5.85"/><circle cx="225.55" cy="741.86" r="5.85"/><circle cx="222.39" cy="742.91" r="5.85"/><circle cx="218.78" cy="743.23" r="5.85"/><circle cx="215.62" cy="742.08" r="5.85"/><circle cx="213.28" cy="742.4" r="5.85"/><circle cx="210.23" cy="740.3" r="5.85"/><circle cx="209.85" cy="737.16" r="5.85"/><circle cx="208.82" cy="733.62" r="5.85"/><circle cx="207.7" cy="730.21" r="5.85"/><circle cx="205.57" cy="729.49" r="5.85"/><circle cx="203.15" cy="727.28" r="5.85"/><circle cx="199.96" cy="727.68" r="5.85"/><circle cx="198.56" cy="727.19" r="5.85"/><circle cx="194.4" cy="726.16" r="5.85"/><circle cx="191.48" cy="726.01" r="5.85"/><circle cx="188.26" cy="725.39" r="5.85"/><circle cx="185.76" cy="725.19" r="5.85"/><circle cx="184.61" cy="722.82" r="5.85"/><circle cx="180.58" cy="722.12" r="5.85"/><circle cx="178.32" cy="719.08" r="5.85"/><circle cx="175.37" cy="717.25" r="5.85"/><circle cx="173.41" cy="717.89" r="5.85"/><circle cx="170.01" cy="717.04" r="5.85"/><circle cx="166.87" cy="715.36" r="5.85"/><circle cx="164.29" cy="714.42" r="5.85"/><circle cx="161.48" cy="712.39" r="5.85"/><circle cx="159.32" cy="711.47" r="5.85"/><circle cx="157.21" cy="710.71" r="5.85"/><circle cx="154.94" cy="709.47" r="5.85"/></g>
<g fill="none" stroke="#000" stroke-width="1.9"><circle cx="147.5" cy="695" r="5.85"/><circle cx="233.25" cy="699.5" r="5.85"/><circle cx="250" cy="712.5" r="5.85"/><circle cx="587.5" cy="617.5" r="5.85"/><circle cx="535" cy="642.5" r="5.85"/><circle cx="509.5" cy="649.5" r="5.85"/><circle cx="498.75" cy="643.75" r="5.85"/><circle cx="500" cy="647.5" r="5.85"/><circle cx="490.5" cy="648.75" r="5.85"/><circle cx="461.25" cy="645.5" r="5.85"/><circle cx="452.5" cy="653.75" r="5.85"/><circle cx="465" cy="666.25" r="5.85"/><circle cx="481.75" cy="671.25" r="5.85"/><circle cx="443.75" cy="677.5" r="5.85"/><circle cx="437" cy="695" r="5.85"/><circle cx="432.5" cy="673.75" r="5.85"/><circle cx="426.25" cy="684.5" r="5.85"/><circle cx="425" cy="667.5" r="5.85"/><circle cx="417.5" cy="671.25" r="5.85"/><circle cx="413.75" cy="662.5" r="5.85"/><circle cx="408.75" cy="662.5" r="5.85"/><circle cx="399.5" cy="649.5" r="5.85"/><circle cx="393.75" cy="661.25" r="5.85"/><circle cx="395" cy="657.5" r="5.85"/><circle cx="391.25" cy="662.5" r="5.85"/><circle cx="403.75" cy="673.75" r="5.85"/><circle cx="403.75" cy="685" r="5.85"/><circle cx="390" cy="676.25" r="5.85"/><circle cx="388.75" cy="672.5" r="5.85"/><circle cx="371.25" cy="675" r="5.85"/><circle cx="375" cy="685" r="5.85"/><circle cx="380" cy="683.75" r="5.85"/><circle cx="351.25" cy="678.75" r="5.85"/><circle cx="362.5" cy="690" r="5.85"/><circle cx="348.75" cy="686.25" r="5.85"/><circle cx="350" cy="690" r="5.85"/><circle cx="328.75" cy="688.75" r="5.85"/><circle cx="401.25" cy="700" r="5.85"/><circle cx="415" cy="696.25" r="5.85"/><circle cx="422.5" cy="698.75" r="5.85"/><circle cx="426.25" cy="708.75" r="5.85"/><circle cx="422.5" cy="710" r="5.85"/><circle cx="412.5" cy="722.5" r="5.85"/><circle cx="415" cy="717.5" r="5.85"/><circle cx="402.5" cy="716.25" r="5.85"/><circle cx="401.25" cy="737.5" r="5.85"/><circle cx="372.5" cy="787.5" r="5.85"/><circle cx="248.1" cy="713.1" r="5.85"/><circle cx="253.1" cy="710" r="5.85"/><circle cx="350" cy="676.9" r="5.85"/><circle cx="371.25" cy="674.4" r="5.85"/><circle cx="362.5" cy="688.75" r="5.85"/><circle cx="348.75" cy="686.9" r="5.85"/><circle cx="345" cy="687.5" r="5.85"/><circle cx="328.75" cy="686.25" r="5.85"/><circle cx="376.9" cy="684.4" r="5.85"/><circle cx="380" cy="681.9" r="5.85"/><circle cx="390" cy="675" r="5.85"/><circle cx="392.5" cy="660.6" r="5.85"/><circle cx="398.75" cy="651.25" r="5.85"/><circle cx="403.75" cy="661.9" r="5.85"/><circle cx="403.75" cy="685" r="5.85"/><circle cx="400" cy="700" r="5.85"/><circle cx="403.75" cy="716.25" r="5.85"/><circle cx="400.6" cy="736.25" r="5.85"/><circle cx="395" cy="728.75" r="5.85"/><circle cx="383.75" cy="696.25" r="5.85"/><circle cx="375" cy="697.5" r="5.85"/><circle cx="387.5" cy="701.25" r="5.85"/><circle cx="252.5" cy="708.75" r="5.85"/></g>
<g fill="none" stroke="#000" stroke-width="1.9"><circle cx="402.09" cy="709.01" r="5.85"/><circle cx="342.28" cy="682.87" r="5.85"/><circle cx="371.21" cy="685.45" r="5.85"/><circle cx="365.67" cy="698.13" r="5.85"/><circle cx="395.54" cy="723.05" r="5.85"/><circle cx="354.59" cy="695.32" r="5.85"/><circle cx="352.55" cy="686.07" r="5.85"/><circle cx="389.77" cy="705.22" r="5.85"/><circle cx="396.03" cy="704.42" r="5.85"/><circle cx="401" cy="709.26" r="5.85"/><circle cx="390.72" cy="697.65" r="5.85"/><circle cx="337.88" cy="685.47" r="5.85"/><circle cx="392.17" cy="692.31" r="5.85"/><circle cx="396.64" cy="719.23" r="5.85"/><circle cx="390.27" cy="701.08" r="5.85"/><circle cx="353.11" cy="686.26" r="5.85"/><circle cx="404.81" cy="710.06" r="5.85"/><circle cx="344.26" cy="690.94" r="5.85"/><circle cx="400.86" cy="729.43" r="5.85"/><circle cx="349.46" cy="693.01" r="5.85"/><circle cx="398.81" cy="717" r="5.85"/><circle cx="362.87" cy="688.02" r="5.85"/><circle cx="376.52" cy="699.02" r="5.85"/><circle cx="377.92" cy="698.25" r="5.85"/><circle cx="364.77" cy="685.51" r="5.85"/><circle cx="374.63" cy="689.63" r="5.85"/><circle cx="406.48" cy="720.1" r="5.85"/><circle cx="340.95" cy="684.03" r="5.85"/><circle cx="391.87" cy="735.07" r="5.85"/><circle cx="400.27" cy="732.52" r="5.85"/><circle cx="397.35" cy="715.22" r="5.85"/><circle cx="378.75" cy="704.18" r="5.85"/><circle cx="386.8" cy="704.53" r="5.85"/><circle cx="367.51" cy="695.35" r="5.85"/><circle cx="349.95" cy="682.66" r="5.85"/><circle cx="345.8" cy="691.84" r="5.85"/><circle cx="400.65" cy="720.28" r="5.85"/><circle cx="392.87" cy="735.02" r="5.85"/><circle cx="398.66" cy="704.3" r="5.85"/><circle cx="375.48" cy="700.36" r="5.85"/><circle cx="395.29" cy="731.23" r="5.85"/><circle cx="351.59" cy="691.81" r="5.85"/><circle cx="365.15" cy="697.96" r="5.85"/><circle cx="335.82" cy="683.83" r="5.85"/><circle cx="365.48" cy="683.43" r="5.85"/></g>
<path d="M147.5,738.1 C149.79,739.57 156.04,743.57 161.25,746.9 C166.46,750.23 173.96,755.4 178.75,758.1 C183.54,760.8 186.04,761.74 190,763.1 C193.96,764.46 199.17,765.62 202.5,766.25 C205.83,766.88 207.5,767.02 210,766.9 C212.5,766.77 214.17,766.02 217.5,765.5 C220.83,764.98 225.83,764.35 230,763.75 C234.17,763.15 238.33,762.69 242.5,761.9 C246.67,761.11 250.83,760.05 255,759 C259.17,757.95 261.67,757 267.5,755.6 C273.33,754.2 276.25,753.7 290,750.6 C303.75,747.5 330,741.68 350,737 C370,732.32 385,728.5 410,722.5 C435,716.5 470.42,708.08 500,701 C529.58,693.92 572.92,683.5 587.5,680" fill="none" stroke="#D42B53" stroke-width="2" stroke-linejoin="round" stroke-linecap="round" />
<text x="436.5" y="648.75" font-size="19.92" text-anchor="start" fill="#000">25999</text>
<text x="527.35" y="648.75" font-size="19.92" text-anchor="end" fill="#000">27631</text>
<text x="578.4" y="622.5" font-size="19.92" text-anchor="end" fill="#000">27416</text>
<rect x="130.68" y="610.68" width="474.39" height="186.77" fill="none" stroke="#000" stroke-width="2"/>
<text x="367.88" y="597.14" font-size="31.87" text-anchor="middle" fill="#000">Scale-Location</text>
<line x1="191.5" y1="797.45" x2="593.5" y2="797.45" stroke="#000" stroke-width="2" />
<line x1="130.68" y1="790.5" x2="130.68" y2="632" stroke="#000" stroke-width="2" />
<line x1="191.5" y1="797.45" x2="191.5" y2="813.39" stroke="#000" stroke-width="2" stroke-linecap="round"/>
<text x="191.5" y="854.82" font-size="26.56" text-anchor="middle" fill="#000">0</text>
<line x1="292" y1="797.45" x2="292" y2="813.39" stroke="#000" stroke-width="2" stroke-linecap="round"/>
<text x="292" y="854.82" font-size="26.56" text-anchor="middle" fill="#000">10000</text>
<line x1="392.5" y1="797.45" x2="392.5" y2="813.39" stroke="#000" stroke-width="2" stroke-linecap="round"/>
<text x="392.5" y="854.82" font-size="26.56" text-anchor="middle" fill="#000">20000</text>
<line x1="493" y1="797.45" x2="493" y2="813.39" stroke="#000" stroke-width="2" stroke-linecap="round"/>
<text x="493" y="854.82" font-size="26.56" text-anchor="middle" fill="#000">30000</text>
<line x1="593.5" y1="797.45" x2="593.5" y2="813.39" stroke="#000" stroke-width="2" stroke-linecap="round"/>
<text x="593.5" y="854.82" font-size="26.56" text-anchor="middle" fill="#000">40000</text>
<line x1="130.68" y1="790.5" x2="114.74" y2="790.5" stroke="#000" stroke-width="2" stroke-linecap="round"/>
<text x="92.43" y="791.1" font-size="26.56" text-anchor="middle" fill="#000" transform="rotate(-90 92.43 791.1)">0</text>
<line x1="130.68" y1="750.75" x2="114.74" y2="750.75" stroke="#000" stroke-width="2" stroke-linecap="round"/>
<text x="92.43" y="751.35" font-size="26.56" text-anchor="middle" fill="#000" transform="rotate(-90 92.43 751.35)">1</text>
<line x1="130.68" y1="711.25" x2="114.74" y2="711.25" stroke="#000" stroke-width="2" stroke-linecap="round"/>
<text x="92.43" y="711.85" font-size="26.56" text-anchor="middle" fill="#000" transform="rotate(-90 92.43 711.85)">2</text>
<line x1="130.68" y1="671.25" x2="114.74" y2="671.25" stroke="#000" stroke-width="2" stroke-linecap="round"/>
<text x="92.43" y="671.85" font-size="26.56" text-anchor="middle" fill="#000" transform="rotate(-90 92.43 671.85)">3</text>
<line x1="130.68" y1="632" x2="114.74" y2="632" stroke="#000" stroke-width="2" stroke-linecap="round"/>
<text x="92.43" y="632.6" font-size="26.56" text-anchor="middle" fill="#000" transform="rotate(-90 92.43 632.6)">4</text>
<text x="367.88" y="918.56" font-size="26.56" text-anchor="middle" fill="#000">Fitted values</text>
<text x="28.69" y="833.1" font-size="26.56" text-anchor="start" fill="#000" transform="rotate(-90 28.69 833.1)">Standardized residuals</text>
<text x="24.9" y="835.2" font-size="23.5" text-anchor="middle" fill="#000" transform="rotate(-90 24.9 835.2)">|</text>
<text x="24.9" y="561.6" font-size="23.5" text-anchor="middle" fill="#000" transform="rotate(-90 24.9 561.6)">|</text>
<polyline points="3.6,558.75 3.6,838.1 29.2,843.3 18.75,846.5 20.8,850.1" fill="none" stroke="#000" stroke-width="2" stroke-linejoin="round" stroke-linecap="round" />
<path d="M814,629 Q814,622 821,622 Q828,622 828,629 L828.5,700 L831.5,745 Q831.5,758 823,758 Q816,758 815.5,745 L814,700 Z" fill="#000"/>
<g fill="none" stroke="#000" stroke-width="1.9"><circle cx="835" cy="664.6" r="5.85"/><circle cx="835.8" cy="674.2" r="5.85"/><circle cx="836.7" cy="683.3" r="5.85"/><circle cx="838.3" cy="695" r="5.85"/><circle cx="837.5" cy="710" r="5.85"/><circle cx="836.7" cy="715" r="5.85"/><circle cx="833.3" cy="707.5" r="5.85"/><circle cx="832.9" cy="669.2" r="5.85"/><circle cx="832.5" cy="677.5" r="5.85"/><circle cx="833.3" cy="689.2" r="5.85"/><circle cx="832.5" cy="700" r="5.85"/><circle cx="834.2" cy="704.2" r="5.85"/><circle cx="835" cy="713.3" r="5.85"/><circle cx="834" cy="692" r="5.85"/><circle cx="940.6" cy="681.9" r="5.85"/><circle cx="1245.25" cy="669.5" r="5.85"/><circle cx="1259" cy="694.5" r="5.85"/><circle cx="825.8" cy="778.6" r="5.85"/></g>
<g fill="none" stroke="#000" stroke-width="1.9"><circle cx="819.93" cy="627.75" r="5.85"/><circle cx="819.28" cy="632.73" r="5.85"/><circle cx="819.01" cy="636.01" r="5.85"/><circle cx="820.8" cy="639.16" r="5.85"/><circle cx="820.11" cy="644.23" r="5.85"/><circle cx="819.08" cy="647.76" r="5.85"/><circle cx="820.41" cy="651.9" r="5.85"/><circle cx="820.45" cy="655.31" r="5.85"/><circle cx="819.48" cy="659.22" r="5.85"/><circle cx="820.01" cy="664.85" r="5.85"/><circle cx="820.18" cy="668.55" r="5.85"/><circle cx="819.77" cy="672.49" r="5.85"/><circle cx="819.2" cy="675.58" r="5.85"/><circle cx="820.35" cy="680.45" r="5.85"/><circle cx="819.84" cy="683.18" r="5.85"/><circle cx="819.53" cy="687.42" r="5.85"/><circle cx="819.56" cy="692.62" r="5.85"/><circle cx="819.4" cy="696.77" r="5.85"/><circle cx="820.76" cy="699.11" r="5.85"/><circle cx="819.76" cy="703.98" r="5.85"/><circle cx="819.05" cy="707.85" r="5.85"/><circle cx="820.81" cy="711.22" r="5.85"/><circle cx="820.19" cy="715.24" r="5.85"/><circle cx="820.16" cy="720.79" r="5.85"/><circle cx="819.41" cy="723.02" r="5.85"/><circle cx="819.17" cy="728.08" r="5.85"/><circle cx="819.03" cy="731.17" r="5.85"/><circle cx="819.99" cy="736.84" r="5.85"/><circle cx="819.84" cy="739.8" r="5.85"/><circle cx="820.28" cy="743.19" r="5.85"/><circle cx="820.16" cy="747.35" r="5.85"/></g>
<line x1="802.68" y1="679.4" x2="1277.07" y2="679.4" stroke="#BEBEBE" stroke-width="2" stroke-dasharray="2.67 8" stroke-linecap="round"/>
<line x1="820" y1="797.45" x2="820" y2="610.68" stroke="#BEBEBE" stroke-width="2" stroke-dasharray="2.67 8" stroke-linecap="round"/>
<polyline points="820,680 823.75,685 827.5,686.25 837.5,691.9 936.25,681.9 950,681.9 1259,694.5" fill="none" stroke="#D42B53" stroke-width="2" stroke-linejoin="round" stroke-linecap="round" />
<clipPath id="c4"><rect x="802.68" y="610.68" width="474.39" height="186.77"/></clipPath>
<polyline points="822.96,418.65 824.14,459.25 825.32,485.44 826.5,504.14 827.69,518.34 828.87,529.62 830.05,538.85 831.23,546.58 832.42,553.2 833.6,558.93 834.78,563.97 835.96,568.44 837.15,572.44 838.33,576.06 839.51,579.34 840.69,582.34 841.88,585.1 843.06,587.65 844.24,590.01 845.42,592.2 846.61,594.25 847.79,596.17 848.97,597.97 850.15,599.67 851.34,601.27 852.52,602.78 853.7,604.22 854.88,605.58 856.07,606.88 857.25,608.12 858.43,609.3 859.61,610.42 860.8,611.5 861.98,612.54 863.16,613.53 864.34,614.49 865.53,615.4 866.71,616.29 867.89,617.14 869.07,617.96 870.26,618.76 871.44,619.52 872.62,620.26 873.8,620.98 874.99,621.68 876.17,622.35 877.35,623 878.53,623.64 879.72,624.25 880.9,624.85 882.08,625.44 883.26,626 884.45,626.55 885.63,627.09 886.81,627.61 887.99,628.12 889.18,628.62 890.36,629.11 891.54,629.58 892.72,630.04 893.91,630.5 895.09,630.94 896.27,631.37 897.45,631.79 898.64,632.21 899.82,632.61 901,633.01 902.18,633.4 903.37,633.78 904.55,634.15 905.73,634.52 906.91,634.87 908.1,635.23 909.28,635.57 910.46,635.91 911.64,636.24 912.83,636.57 914.01,636.89 915.19,637.21 916.37,637.51 917.56,637.82 918.74,638.12 919.92,638.41 921.1,638.7 922.29,638.99 923.47,639.27 924.65,639.54 925.83,639.81 927.02,640.08 928.2,640.35 929.38,640.6 930.56,640.86 931.75,641.11 932.93,641.36 934.11,641.6 935.29,641.84 936.48,642.08 937.66,642.32 938.84,642.55 940.02,642.78 941.21,643 942.39,643.22 943.57,643.44 944.75,643.66 945.94,643.87 947.12,644.08 948.3,644.29 949.48,644.49 950.67,644.7 951.85,644.9 953.03,645.1 954.21,645.29 955.4,645.48 956.58,645.68 957.76,645.86 958.94,646.05 960.13,646.24 961.31,646.42 962.49,646.6 963.67,646.78 964.86,646.95 966.04,647.13 967.22,647.3 968.4,647.47 969.59,647.64 970.77,647.81 971.95,647.97 973.13,648.14 974.32,648.3 975.5,648.46 976.68,648.62 977.86,648.77 979.05,648.93 980.23,649.08 981.41,649.24 982.59,649.39 983.78,649.54 984.96,649.69 986.14,649.83 987.32,649.98 988.51,650.12 989.69,650.27 990.87,650.41 992.05,650.55 993.24,650.69 994.42,650.83 995.6,650.96 996.78,651.1 997.97,651.23 999.15,651.37 1000.33,651.5 1001.51,651.63 1002.7,651.76 1003.88,651.89 1005.06,652.02 1006.24,652.14 1007.43,652.27 1008.61,652.39 1009.79,652.52 1010.97,652.64 1012.16,652.76 1013.34,652.88 1014.52,653 1015.7,653.12 1016.89,653.24 1018.07,653.36 1019.25,653.47 1020.43,653.59 1021.62,653.7 1022.8,653.82 1023.98,653.93 1025.16,654.04 1026.35,654.16 1027.53,654.27 1028.71,654.38 1029.89,654.49 1031.08,654.59 1032.26,654.7 1033.44,654.81 1034.62,654.91 1035.81,655.02 1036.99,655.12 1038.17,655.23 1039.35,655.33 1040.54,655.44 1041.72,655.54 1042.9,655.64 1044.08,655.74 1045.27,655.84 1046.45,655.94 1047.63,656.04 1048.81,656.14 1050,656.23 1051.18,656.33 1052.36,656.43 1053.54,656.52 1054.73,656.62 1055.91,656.71 1057.09,656.81 1058.27,656.9 1059.46,657 1060.64,657.09 1061.82,657.18 1063,657.27 1064.19,657.36 1065.37,657.45 1066.55,657.54 1067.73,657.63 1068.92,657.72 1070.1,657.81 1071.28,657.9 1072.46,657.99 1073.65,658.08 1074.83,658.16 1076.01,658.25 1077.19,658.33 1078.38,658.42 1079.56,658.51 1080.74,658.59 1081.92,658.67 1083.11,658.76 1084.29,658.84 1085.47,658.92 1086.65,659.01 1087.84,659.09 1089.02,659.17 1090.2,659.25 1091.38,659.33 1092.57,659.41 1093.75,659.49 1094.93,659.57 1096.11,659.65 1097.3,659.73 1098.48,659.81 1099.66,659.89 1100.84,659.97 1102.03,660.05 1103.21,660.12 1104.39,660.2 1105.57,660.28 1106.76,660.35 1107.94,660.43 1109.12,660.51 1110.3,660.58 1111.49,660.66 1112.67,660.73 1113.85,660.8 1115.03,660.88 1116.22,660.95 1117.4,661.03 1118.58,661.1 1119.76,661.17 1120.95,661.25 1122.13,661.32 1123.31,661.39 1124.49,661.46 1125.68,661.53 1126.86,661.61 1128.04,661.68 1129.22,661.75 1130.41,661.82 1131.59,661.89 1132.77,661.96 1133.95,662.03 1135.14,662.1 1136.32,662.17 1137.5,662.24 1138.68,662.31 1139.87,662.37 1141.05,662.44 1142.23,662.51 1143.41,662.58 1144.6,662.65 1145.78,662.71 1146.96,662.78 1148.14,662.85 1149.33,662.92 1150.51,662.98 1151.69,663.05 1152.87,663.12 1154.06,663.18 1155.24,663.25 1156.42,663.31 1157.6,663.38 1158.79,663.44 1159.97,663.51 1161.15,663.57 1162.33,663.64 1163.52,663.7 1164.7,663.77 1165.88,663.83 1167.06,663.9 1168.25,663.96 1169.43,664.02 1170.61,664.09 1171.79,664.15 1172.98,664.21 1174.16,664.28 1175.34,664.34 1176.52,664.4 1177.71,664.46 1178.89,664.53 1180.07,664.59 1181.25,664.65 1182.44,664.71 1183.62,664.78 1184.8,664.84 1185.98,664.9 1187.17,664.96 1188.35,665.02 1189.53,665.08 1190.71,665.14 1191.9,665.2 1193.08,665.27 1194.26,665.33 1195.44,665.39 1196.63,665.45 1197.81,665.51 1198.99,665.57 1200.17,665.63 1201.36,665.69 1202.54,665.75 1203.72,665.81 1204.9,665.87 1206.09,665.93 1207.27,665.99 1208.45,666.04 1209.63,666.1 1210.82,666.16 1212,666.22 1213.18,666.28 1214.36,666.34 1215.55,666.4 1216.73,666.46 1217.91,666.52 1219.09,666.57 1220.28,666.63 1221.46,666.69 1222.64,666.75 1223.82,666.81 1225.01,666.87 1226.19,666.92 1227.37,666.98 1228.55,667.04 1229.74,667.1 1230.92,667.16 1232.1,667.21 1233.28,667.27 1234.47,667.33 1235.65,667.39 1236.83,667.44 1238.01,667.5 1239.2,667.56 1240.38,667.62 1241.56,667.67 1242.74,667.73 1243.93,667.79 1245.11,667.84 1246.29,667.9 1247.47,667.96 1248.66,668.02 1249.84,668.07 1251.02,668.13 1252.2,668.19 1253.39,668.24 1254.57,668.3 1255.75,668.36 1256.93,668.42 1258.12,668.47 1259.3,668.53 1260.48,668.59 1261.66,668.64 1262.85,668.7 1264.03,668.76 1265.21,668.81 1266.39,668.87 1267.58,668.93 1268.76,668.98 1269.94,669.04 1271.12,669.1 1272.31,669.16 1273.49,669.21 1274.67,669.27 1275.85,669.33 1277.04,669.38" fill="none" stroke="#7F7F7F" stroke-width="2" stroke-dasharray="10.67 10.67" stroke-linecap="round" clip-path="url(#c4)"/>
<polyline points="822.96,940.15 824.14,899.55 825.32,873.36 826.5,854.66 827.69,840.46 828.87,829.18 830.05,819.95 831.23,812.22 832.42,805.6 833.6,799.87 834.78,794.83 835.96,790.36 837.15,786.36 838.33,782.74 839.51,779.46 840.69,776.46 841.88,773.7 843.06,771.15 844.24,768.79 845.42,766.6 846.61,764.55 847.79,762.63 848.97,760.83 850.15,759.13 851.34,757.53 852.52,756.02 853.7,754.58 854.88,753.22 856.07,751.92 857.25,750.68 858.43,749.5 859.61,748.38 860.8,747.3 861.98,746.26 863.16,745.27 864.34,744.31 865.53,743.4 866.71,742.51 867.89,741.66 869.07,740.84 870.26,740.04 871.44,739.28 872.62,738.54 873.8,737.82 874.99,737.12 876.17,736.45 877.35,735.8 878.53,735.16 879.72,734.55 880.9,733.95 882.08,733.36 883.26,732.8 884.45,732.25 885.63,731.71 886.81,731.19 887.99,730.68 889.18,730.18 890.36,729.69 891.54,729.22 892.72,728.76 893.91,728.3 895.09,727.86 896.27,727.43 897.45,727.01 898.64,726.59 899.82,726.19 901,725.79 902.18,725.4 903.37,725.02 904.55,724.65 905.73,724.28 906.91,723.93 908.1,723.57 909.28,723.23 910.46,722.89 911.64,722.56 912.83,722.23 914.01,721.91 915.19,721.59 916.37,721.29 917.56,720.98 918.74,720.68 919.92,720.39 921.1,720.1 922.29,719.81 923.47,719.53 924.65,719.26 925.83,718.99 927.02,718.72 928.2,718.45 929.38,718.2 930.56,717.94 931.75,717.69 932.93,717.44 934.11,717.2 935.29,716.96 936.48,716.72 937.66,716.48 938.84,716.25 940.02,716.02 941.21,715.8 942.39,715.58 943.57,715.36 944.75,715.14 945.94,714.93 947.12,714.72 948.3,714.51 949.48,714.31 950.67,714.1 951.85,713.9 953.03,713.7 954.21,713.51 955.4,713.32 956.58,713.12 957.76,712.94 958.94,712.75 960.13,712.56 961.31,712.38 962.49,712.2 963.67,712.02 964.86,711.85 966.04,711.67 967.22,711.5 968.4,711.33 969.59,711.16 970.77,710.99 971.95,710.83 973.13,710.66 974.32,710.5 975.5,710.34 976.68,710.18 977.86,710.03 979.05,709.87 980.23,709.72 981.41,709.56 982.59,709.41 983.78,709.26 984.96,709.11 986.14,708.97 987.32,708.82 988.51,708.68 989.69,708.53 990.87,708.39 992.05,708.25 993.24,708.11 994.42,707.97 995.6,707.84 996.78,707.7 997.97,707.57 999.15,707.43 1000.33,707.3 1001.51,707.17 1002.7,707.04 1003.88,706.91 1005.06,706.78 1006.24,706.66 1007.43,706.53 1008.61,706.41 1009.79,706.28 1010.97,706.16 1012.16,706.04 1013.34,705.92 1014.52,705.8 1015.7,705.68 1016.89,705.56 1018.07,705.44 1019.25,705.33 1020.43,705.21 1021.62,705.1 1022.8,704.98 1023.98,704.87 1025.16,704.76 1026.35,704.64 1027.53,704.53 1028.71,704.42 1029.89,704.31 1031.08,704.21 1032.26,704.1 1033.44,703.99 1034.62,703.89 1035.81,703.78 1036.99,703.68 1038.17,703.57 1039.35,703.47 1040.54,703.36 1041.72,703.26 1042.9,703.16 1044.08,703.06 1045.27,702.96 1046.45,702.86 1047.63,702.76 1048.81,702.66 1050,702.57 1051.18,702.47 1052.36,702.37 1053.54,702.28 1054.73,702.18 1055.91,702.09 1057.09,701.99 1058.27,701.9 1059.46,701.8 1060.64,701.71 1061.82,701.62 1063,701.53 1064.19,701.44 1065.37,701.35 1066.55,701.26 1067.73,701.17 1068.92,701.08 1070.1,700.99 1071.28,700.9 1072.46,700.81 1073.65,700.72 1074.83,700.64 1076.01,700.55 1077.19,700.47 1078.38,700.38 1079.56,700.29 1080.74,700.21 1081.92,700.13 1083.11,700.04 1084.29,699.96 1085.47,699.88 1086.65,699.79 1087.84,699.71 1089.02,699.63 1090.2,699.55 1091.38,699.47 1092.57,699.39 1093.75,699.31 1094.93,699.23 1096.11,699.15 1097.3,699.07 1098.48,698.99 1099.66,698.91 1100.84,698.83 1102.03,698.75 1103.21,698.68 1104.39,698.6 1105.57,698.52 1106.76,698.45 1107.94,698.37 1109.12,698.29 1110.3,698.22 1111.49,698.14 1112.67,698.07 1113.85,698 1115.03,697.92 1116.22,697.85 1117.4,697.77 1118.58,697.7 1119.76,697.63 1120.95,697.55 1122.13,697.48 1123.31,697.41 1124.49,697.34 1125.68,697.27 1126.86,697.19 1128.04,697.12 1129.22,697.05 1130.41,696.98 1131.59,696.91 1132.77,696.84 1133.95,696.77 1135.14,696.7 1136.32,696.63 1137.5,696.56 1138.68,696.49 1139.87,696.43 1141.05,696.36 1142.23,696.29 1143.41,696.22 1144.6,696.15 1145.78,696.09 1146.96,696.02 1148.14,695.95 1149.33,695.88 1150.51,695.82 1151.69,695.75 1152.87,695.68 1154.06,695.62 1155.24,695.55 1156.42,695.49 1157.6,695.42 1158.79,695.36 1159.97,695.29 1161.15,695.23 1162.33,695.16 1163.52,695.1 1164.7,695.03 1165.88,694.97 1167.06,694.9 1168.25,694.84 1169.43,694.78 1170.61,694.71 1171.79,694.65 1172.98,694.59 1174.16,694.52 1175.34,694.46 1176.52,694.4 1177.71,694.34 1178.89,694.27 1180.07,694.21 1181.25,694.15 1182.44,694.09 1183.62,694.02 1184.8,693.96 1185.98,693.9 1187.17,693.84 1188.35,693.78 1189.53,693.72 1190.71,693.66 1191.9,693.6 1193.08,693.53 1194.26,693.47 1195.44,693.41 1196.63,693.35 1197.81,693.29 1198.99,693.23 1200.17,693.17 1201.36,693.11 1202.54,693.05 1203.72,692.99 1204.9,692.93 1206.09,692.87 1207.27,692.81 1208.45,692.76 1209.63,692.7 1210.82,692.64 1212,692.58 1213.18,692.52 1214.36,692.46 1215.55,692.4 1216.73,692.34 1217.91,692.28 1219.09,692.23 1220.28,692.17 1221.46,692.11 1222.64,692.05 1223.82,691.99 1225.01,691.93 1226.19,691.88 1227.37,691.82 1228.55,691.76 1229.74,691.7 1230.92,691.64 1232.1,691.59 1233.28,691.53 1234.47,691.47 1235.65,691.41 1236.83,691.36 1238.01,691.3 1239.2,691.24 1240.38,691.18 1241.56,691.13 1242.74,691.07 1243.93,691.01 1245.11,690.96 1246.29,690.9 1247.47,690.84 1248.66,690.78 1249.84,690.73 1251.02,690.67 1252.2,690.61 1253.39,690.56 1254.57,690.5 1255.75,690.44 1256.93,690.38 1258.12,690.33 1259.3,690.27 1260.48,690.21 1261.66,690.16 1262.85,690.1 1264.03,690.04 1265.21,689.99 1266.39,689.93 1267.58,689.87 1268.76,689.82 1269.94,689.76 1271.12,689.7 1272.31,689.64 1273.49,689.59 1274.67,689.53 1275.85,689.47 1277.04,689.42" fill="none" stroke="#7F7F7F" stroke-width="2" stroke-dasharray="10.67 10.67" stroke-linecap="round" clip-path="url(#c4)"/>
<polyline points="822.96,310.65 824.14,368.06 825.32,405.1 826.5,431.54 827.69,451.63 828.87,467.57 830.05,480.63 831.23,491.57 832.42,500.92 833.6,509.03 834.78,516.16 835.96,522.48 837.15,528.14 838.33,533.25 839.51,537.9 840.69,542.14 841.88,546.04 843.06,549.64 844.24,552.98 845.42,556.08 846.61,558.98 847.79,561.69 848.97,564.24 850.15,566.64 851.34,568.9 852.52,571.05 853.7,573.08 854.88,575.01 856.07,576.84 857.25,578.59 858.43,580.26 859.61,581.85 860.8,583.38 861.98,584.85 863.16,586.25 864.34,587.6 865.53,588.9 866.71,590.15 867.89,591.35 869.07,592.51 870.26,593.64 871.44,594.72 872.62,595.77 873.8,596.78 874.99,597.77 876.17,598.72 877.35,599.64 878.53,600.54 879.72,601.41 880.9,602.26 882.08,603.08 883.26,603.88 884.45,604.66 885.63,605.42 886.81,606.16 887.99,606.88 889.18,607.59 890.36,608.28 891.54,608.95 892.72,609.6 893.91,610.24 895.09,610.87 896.27,611.48 897.45,612.07 898.64,612.66 899.82,613.23 901,613.79 902.18,614.34 903.37,614.88 904.55,615.41 905.73,615.92 906.91,616.43 908.1,616.93 909.28,617.42 910.46,617.9 911.64,618.37 912.83,618.83 914.01,619.28 915.19,619.73 916.37,620.17 917.56,620.6 918.74,621.02 919.92,621.44 921.1,621.84 922.29,622.25 923.47,622.64 924.65,623.03 925.83,623.42 927.02,623.8 928.2,624.17 929.38,624.53 930.56,624.9 931.75,625.25 932.93,625.6 934.11,625.95 935.29,626.29 936.48,626.62 937.66,626.96 938.84,627.28 940.02,627.61 941.21,627.92 942.39,628.24 943.57,628.55 944.75,628.85 945.94,629.15 947.12,629.45 948.3,629.75 949.48,630.04 950.67,630.32 951.85,630.61 953.03,630.89 954.21,631.16 955.4,631.44 956.58,631.71 957.76,631.97 958.94,632.24 960.13,632.5 961.31,632.76 962.49,633.01 963.67,633.26 964.86,633.51 966.04,633.76 967.22,634 968.4,634.24 969.59,634.48 970.77,634.72 971.95,634.95 973.13,635.19 974.32,635.41 975.5,635.64 976.68,635.87 977.86,636.09 979.05,636.31 980.23,636.53 981.41,636.74 982.59,636.96 983.78,637.17 984.96,637.38 986.14,637.59 987.32,637.79 988.51,638 989.69,638.2 990.87,638.4 992.05,638.6 993.24,638.79 994.42,638.99 995.6,639.18 996.78,639.38 997.97,639.57 999.15,639.75 1000.33,639.94 1001.51,640.13 1002.7,640.31 1003.88,640.49 1005.06,640.67 1006.24,640.85 1007.43,641.03 1008.61,641.21 1009.79,641.38 1010.97,641.56 1012.16,641.73 1013.34,641.9 1014.52,642.07 1015.7,642.24 1016.89,642.4 1018.07,642.57 1019.25,642.74 1020.43,642.9 1021.62,643.06 1022.8,643.22 1023.98,643.38 1025.16,643.54 1026.35,643.7 1027.53,643.86 1028.71,644.01 1029.89,644.17 1031.08,644.32 1032.26,644.47 1033.44,644.62 1034.62,644.77 1035.81,644.92 1036.99,645.07 1038.17,645.22 1039.35,645.36 1040.54,645.51 1041.72,645.65 1042.9,645.8 1044.08,645.94 1045.27,646.08 1046.45,646.22 1047.63,646.36 1048.81,646.5 1050,646.64 1051.18,646.78 1052.36,646.91 1053.54,647.05 1054.73,647.18 1055.91,647.32 1057.09,647.45 1058.27,647.58 1059.46,647.72 1060.64,647.85 1061.82,647.98 1063,648.11 1064.19,648.24 1065.37,648.36 1066.55,648.49 1067.73,648.62 1068.92,648.74 1070.1,648.87 1071.28,648.99 1072.46,649.12 1073.65,649.24 1074.83,649.37 1076.01,649.49 1077.19,649.61 1078.38,649.73 1079.56,649.85 1080.74,649.97 1081.92,650.09 1083.11,650.21 1084.29,650.33 1085.47,650.44 1086.65,650.56 1087.84,650.68 1089.02,650.79 1090.2,650.91 1091.38,651.02 1092.57,651.13 1093.75,651.25 1094.93,651.36 1096.11,651.47 1097.3,651.59 1098.48,651.7 1099.66,651.81 1100.84,651.92 1102.03,652.03 1103.21,652.14 1104.39,652.25 1105.57,652.36 1106.76,652.46 1107.94,652.57 1109.12,652.68 1110.3,652.79 1111.49,652.89 1112.67,653 1113.85,653.1 1115.03,653.21 1116.22,653.31 1117.4,653.42 1118.58,653.52 1119.76,653.62 1120.95,653.73 1122.13,653.83 1123.31,653.93 1124.49,654.03 1125.68,654.13 1126.86,654.24 1128.04,654.34 1129.22,654.44 1130.41,654.54 1131.59,654.64 1132.77,654.73 1133.95,654.83 1135.14,654.93 1136.32,655.03 1137.5,655.13 1138.68,655.23 1139.87,655.32 1141.05,655.42 1142.23,655.52 1143.41,655.61 1144.6,655.71 1145.78,655.8 1146.96,655.9 1148.14,655.99 1149.33,656.09 1150.51,656.18 1151.69,656.28 1152.87,656.37 1154.06,656.46 1155.24,656.56 1156.42,656.65 1157.6,656.74 1158.79,656.83 1159.97,656.93 1161.15,657.02 1162.33,657.11 1163.52,657.2 1164.7,657.29 1165.88,657.38 1167.06,657.47 1168.25,657.56 1169.43,657.65 1170.61,657.74 1171.79,657.83 1172.98,657.92 1174.16,658.01 1175.34,658.1 1176.52,658.19 1177.71,658.28 1178.89,658.37 1180.07,658.45 1181.25,658.54 1182.44,658.63 1183.62,658.72 1184.8,658.8 1185.98,658.89 1187.17,658.98 1188.35,659.07 1189.53,659.15 1190.71,659.24 1191.9,659.32 1193.08,659.41 1194.26,659.5 1195.44,659.58 1196.63,659.67 1197.81,659.75 1198.99,659.84 1200.17,659.92 1201.36,660.01 1202.54,660.09 1203.72,660.18 1204.9,660.26 1206.09,660.34 1207.27,660.43 1208.45,660.51 1209.63,660.6 1210.82,660.68 1212,660.76 1213.18,660.85 1214.36,660.93 1215.55,661.01 1216.73,661.1 1217.91,661.18 1219.09,661.26 1220.28,661.34 1221.46,661.43 1222.64,661.51 1223.82,661.59 1225.01,661.67 1226.19,661.76 1227.37,661.84 1228.55,661.92 1229.74,662 1230.92,662.08 1232.1,662.17 1233.28,662.25 1234.47,662.33 1235.65,662.41 1236.83,662.49 1238.01,662.57 1239.2,662.65 1240.38,662.73 1241.56,662.82 1242.74,662.9 1243.93,662.98 1245.11,663.06 1246.29,663.14 1247.47,663.22 1248.66,663.3 1249.84,663.38 1251.02,663.46 1252.2,663.54 1253.39,663.62 1254.57,663.7 1255.75,663.78 1256.93,663.87 1258.12,663.95 1259.3,664.03 1260.48,664.11 1261.66,664.19 1262.85,664.27 1264.03,664.35 1265.21,664.43 1266.39,664.51 1267.58,664.59 1268.76,664.67 1269.94,664.75 1271.12,664.83 1272.31,664.91 1273.49,664.99 1274.67,665.07 1275.85,665.15 1277.04,665.23" fill="none" stroke="#7F7F7F" stroke-width="2" stroke-dasharray="10.67 10.67" stroke-linecap="round" clip-path="url(#c4)"/>
<polyline points="822.96,1048.15 824.14,990.74 825.32,953.7 826.5,927.26 827.69,907.17 828.87,891.23 830.05,878.17 831.23,867.23 832.42,857.88 833.6,849.77 834.78,842.64 835.96,836.32 837.15,830.66 838.33,825.55 839.51,820.9 840.69,816.66 841.88,812.76 843.06,809.16 844.24,805.82 845.42,802.72 846.61,799.82 847.79,797.11 848.97,794.56 850.15,792.16 851.34,789.9 852.52,787.75 853.7,785.72 854.88,783.79 856.07,781.96 857.25,780.21 858.43,778.54 859.61,776.95 860.8,775.42 861.98,773.95 863.16,772.55 864.34,771.2 865.53,769.9 866.71,768.65 867.89,767.45 869.07,766.29 870.26,765.16 871.44,764.08 872.62,763.03 873.8,762.02 874.99,761.03 876.17,760.08 877.35,759.16 878.53,758.26 879.72,757.39 880.9,756.54 882.08,755.72 883.26,754.92 884.45,754.14 885.63,753.38 886.81,752.64 887.99,751.92 889.18,751.21 890.36,750.52 891.54,749.85 892.72,749.2 893.91,748.56 895.09,747.93 896.27,747.32 897.45,746.73 898.64,746.14 899.82,745.57 901,745.01 902.18,744.46 903.37,743.92 904.55,743.39 905.73,742.88 906.91,742.37 908.1,741.87 909.28,741.38 910.46,740.9 911.64,740.43 912.83,739.97 914.01,739.52 915.19,739.07 916.37,738.63 917.56,738.2 918.74,737.78 919.92,737.36 921.1,736.96 922.29,736.55 923.47,736.16 924.65,735.77 925.83,735.38 927.02,735 928.2,734.63 929.38,734.27 930.56,733.9 931.75,733.55 932.93,733.2 934.11,732.85 935.29,732.51 936.48,732.18 937.66,731.84 938.84,731.52 940.02,731.19 941.21,730.88 942.39,730.56 943.57,730.25 944.75,729.95 945.94,729.65 947.12,729.35 948.3,729.05 949.48,728.76 950.67,728.48 951.85,728.19 953.03,727.91 954.21,727.64 955.4,727.36 956.58,727.09 957.76,726.83 958.94,726.56 960.13,726.3 961.31,726.04 962.49,725.79 963.67,725.54 964.86,725.29 966.04,725.04 967.22,724.8 968.4,724.56 969.59,724.32 970.77,724.08 971.95,723.85 973.13,723.61 974.32,723.39 975.5,723.16 976.68,722.93 977.86,722.71 979.05,722.49 980.23,722.27 981.41,722.06 982.59,721.84 983.78,721.63 984.96,721.42 986.14,721.21 987.32,721.01 988.51,720.8 989.69,720.6 990.87,720.4 992.05,720.2 993.24,720.01 994.42,719.81 995.6,719.62 996.78,719.42 997.97,719.23 999.15,719.05 1000.33,718.86 1001.51,718.67 1002.7,718.49 1003.88,718.31 1005.06,718.13 1006.24,717.95 1007.43,717.77 1008.61,717.59 1009.79,717.42 1010.97,717.24 1012.16,717.07 1013.34,716.9 1014.52,716.73 1015.7,716.56 1016.89,716.4 1018.07,716.23 1019.25,716.06 1020.43,715.9 1021.62,715.74 1022.8,715.58 1023.98,715.42 1025.16,715.26 1026.35,715.1 1027.53,714.94 1028.71,714.79 1029.89,714.63 1031.08,714.48 1032.26,714.33 1033.44,714.18 1034.62,714.03 1035.81,713.88 1036.99,713.73 1038.17,713.58 1039.35,713.44 1040.54,713.29 1041.72,713.15 1042.9,713 1044.08,712.86 1045.27,712.72 1046.45,712.58 1047.63,712.44 1048.81,712.3 1050,712.16 1051.18,712.02 1052.36,711.89 1053.54,711.75 1054.73,711.62 1055.91,711.48 1057.09,711.35 1058.27,711.22 1059.46,711.08 1060.64,710.95 1061.82,710.82 1063,710.69 1064.19,710.56 1065.37,710.44 1066.55,710.31 1067.73,710.18 1068.92,710.06 1070.1,709.93 1071.28,709.81 1072.46,709.68 1073.65,709.56 1074.83,709.43 1076.01,709.31 1077.19,709.19 1078.38,709.07 1079.56,708.95 1080.74,708.83 1081.92,708.71 1083.11,708.59 1084.29,708.47 1085.47,708.36 1086.65,708.24 1087.84,708.12 1089.02,708.01 1090.2,707.89 1091.38,707.78 1092.57,707.67 1093.75,707.55 1094.93,707.44 1096.11,707.33 1097.3,707.21 1098.48,707.1 1099.66,706.99 1100.84,706.88 1102.03,706.77 1103.21,706.66 1104.39,706.55 1105.57,706.44 1106.76,706.34 1107.94,706.23 1109.12,706.12 1110.3,706.01 1111.49,705.91 1112.67,705.8 1113.85,705.7 1115.03,705.59 1116.22,705.49 1117.4,705.38 1118.58,705.28 1119.76,705.18 1120.95,705.07 1122.13,704.97 1123.31,704.87 1124.49,704.77 1125.68,704.67 1126.86,704.56 1128.04,704.46 1129.22,704.36 1130.41,704.26 1131.59,704.16 1132.77,704.07 1133.95,703.97 1135.14,703.87 1136.32,703.77 1137.5,703.67 1138.68,703.57 1139.87,703.48 1141.05,703.38 1142.23,703.28 1143.41,703.19 1144.6,703.09 1145.78,703 1146.96,702.9 1148.14,702.81 1149.33,702.71 1150.51,702.62 1151.69,702.52 1152.87,702.43 1154.06,702.34 1155.24,702.24 1156.42,702.15 1157.6,702.06 1158.79,701.97 1159.97,701.87 1161.15,701.78 1162.33,701.69 1163.52,701.6 1164.7,701.51 1165.88,701.42 1167.06,701.33 1168.25,701.24 1169.43,701.15 1170.61,701.06 1171.79,700.97 1172.98,700.88 1174.16,700.79 1175.34,700.7 1176.52,700.61 1177.71,700.52 1178.89,700.43 1180.07,700.35 1181.25,700.26 1182.44,700.17 1183.62,700.08 1184.8,700 1185.98,699.91 1187.17,699.82 1188.35,699.73 1189.53,699.65 1190.71,699.56 1191.9,699.48 1193.08,699.39 1194.26,699.3 1195.44,699.22 1196.63,699.13 1197.81,699.05 1198.99,698.96 1200.17,698.88 1201.36,698.79 1202.54,698.71 1203.72,698.62 1204.9,698.54 1206.09,698.46 1207.27,698.37 1208.45,698.29 1209.63,698.2 1210.82,698.12 1212,698.04 1213.18,697.95 1214.36,697.87 1215.55,697.79 1216.73,697.7 1217.91,697.62 1219.09,697.54 1220.28,697.46 1221.46,697.37 1222.64,697.29 1223.82,697.21 1225.01,697.13 1226.19,697.04 1227.37,696.96 1228.55,696.88 1229.74,696.8 1230.92,696.72 1232.1,696.63 1233.28,696.55 1234.47,696.47 1235.65,696.39 1236.83,696.31 1238.01,696.23 1239.2,696.15 1240.38,696.07 1241.56,695.98 1242.74,695.9 1243.93,695.82 1245.11,695.74 1246.29,695.66 1247.47,695.58 1248.66,695.5 1249.84,695.42 1251.02,695.34 1252.2,695.26 1253.39,695.18 1254.57,695.1 1255.75,695.02 1256.93,694.93 1258.12,694.85 1259.3,694.77 1260.48,694.69 1261.66,694.61 1262.85,694.53 1264.03,694.45 1265.21,694.37 1266.39,694.29 1267.58,694.21 1268.76,694.13 1269.94,694.05 1271.12,693.97 1272.31,693.89 1273.49,693.81 1274.67,693.73 1275.85,693.65 1277.04,693.57" fill="none" stroke="#7F7F7F" stroke-width="2" stroke-dasharray="10.67 10.67" stroke-linecap="round" clip-path="url(#c4)"/>
<line x1="825.8" y1="779.5" x2="858.6" y2="779.5" stroke="#7F7F7F" stroke-width="2" stroke-dasharray="10.67 10.67" stroke-linecap="round"/>
<text x="882" y="789.6" font-size="26.56" text-anchor="start" fill="#7F7F7F">Cook's distance</text>
<text x="833.5" y="789.6" font-size="19.92" text-anchor="start" fill="#000">27416</text>
<text x="1236.2" y="674.5" font-size="19.92" text-anchor="end" fill="#000">48411</text>
<text x="1251.2" y="705" font-size="19.92" text-anchor="end" fill="#000">24068</text>
<text x="1284.5" y="676.6" font-size="19.92" text-anchor="start" fill="#7F7F7F">0.5</text>
<text x="1284.5" y="700.5" font-size="19.92" text-anchor="start" fill="#7F7F7F">1</text>
<rect x="802.68" y="610.68" width="474.39" height="186.77" fill="none" stroke="#000" stroke-width="2"/>
<text x="1039.88" y="597.14" font-size="31.87" text-anchor="middle" fill="#000">Residuals vs Leverage</text>
<line x1="820" y1="797.45" x2="1174.75" y2="797.45" stroke="#000" stroke-width="2" />
<line x1="802.68" y1="626.9" x2="802.68" y2="783.75" stroke="#000" stroke-width="2" />
<line x1="820" y1="797.45" x2="820" y2="813.39" stroke="#000" stroke-width="2" stroke-linecap="round"/>
<text x="820" y="854.82" font-size="26.56" text-anchor="middle" fill="#000">0.0</text>
<line x1="938.25" y1="797.45" x2="938.25" y2="813.39" stroke="#000" stroke-width="2" stroke-linecap="round"/>
<text x="938.25" y="854.82" font-size="26.56" text-anchor="middle" fill="#000">0.2</text>
<line x1="1056.5" y1="797.45" x2="1056.5" y2="813.39" stroke="#000" stroke-width="2" stroke-linecap="round"/>
<text x="1056.5" y="854.82" font-size="26.56" text-anchor="middle" fill="#000">0.4</text>
<line x1="1174.75" y1="797.45" x2="1174.75" y2="813.39" stroke="#000" stroke-width="2" stroke-linecap="round"/>
<text x="1174.75" y="854.82" font-size="26.56" text-anchor="middle" fill="#000">0.6</text>
<line x1="802.68" y1="626.9" x2="786.74" y2="626.9" stroke="#000" stroke-width="2" stroke-linecap="round"/>
<line x1="802.68" y1="653.1" x2="786.74" y2="653.1" stroke="#000" stroke-width="2" stroke-linecap="round"/>
<text x="764.43" y="653.7" font-size="26.56" text-anchor="middle" fill="#000" transform="rotate(-90 764.43 653.7)">5</text>
<line x1="802.68" y1="679.4" x2="786.74" y2="679.4" stroke="#000" stroke-width="2" stroke-linecap="round"/>
<line x1="802.68" y1="705.6" x2="786.74" y2="705.6" stroke="#000" stroke-width="2" stroke-linecap="round"/>
<text x="764.43" y="706.2" font-size="26.56" text-anchor="middle" fill="#000" transform="rotate(-90 764.43 706.2)">-5</text>
<line x1="802.68" y1="731.25" x2="786.74" y2="731.25" stroke="#000" stroke-width="2" stroke-linecap="round"/>
<line x1="802.68" y1="757.5" x2="786.74" y2="757.5" stroke="#000" stroke-width="2" stroke-linecap="round"/>
<line x1="802.68" y1="783.75" x2="786.74" y2="783.75" stroke="#000" stroke-width="2" stroke-linecap="round"/>
<text x="764.43" y="784.35" font-size="26.56" text-anchor="middle" fill="#000" transform="rotate(-90 764.43 784.35)">-20</text>
<text x="1039.88" y="918.56" font-size="26.56" text-anchor="middle" fill="#000">Leverage</text>
<text x="700.69" y="705.07" font-size="26.56" text-anchor="middle" fill="#000" transform="rotate(-90 700.69 705.07)">Standardized residuals</text>
</svg></body></html>
